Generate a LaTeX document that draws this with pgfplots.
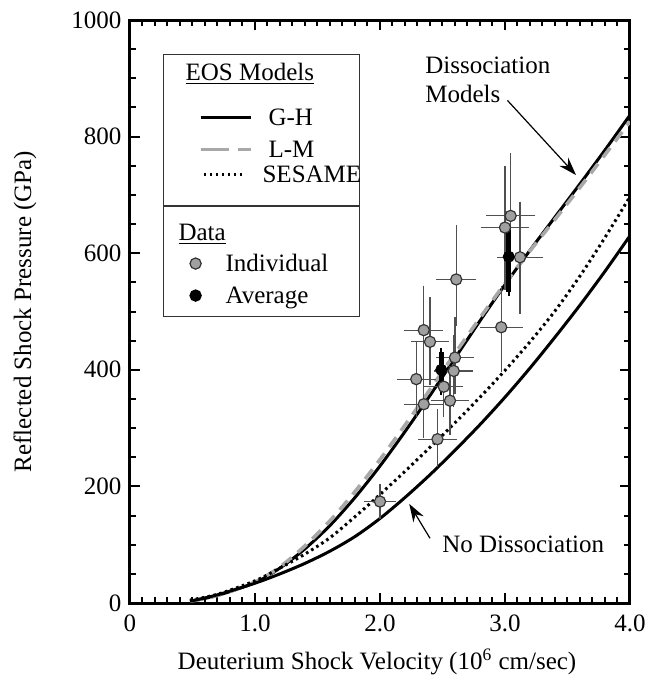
\documentclass[border=0pt]{standalone}
\usepackage{fontspec}
\setmainfont{Liberation Serif}
\usepackage{pgfplots}
\pgfplotsset{compat=1.18}
\usetikzlibrary{arrows.meta}

\definecolor{ptgray}{HTML}{A0A0A0}
\definecolor{lmgray}{HTML}{A8A8A8}
\definecolor{bargray}{HTML}{505050}

\newcommand{\fs}{\fontsize{12.5}{15}\selectfont}
% legend text without height, so that the image boxes set the row spacing
\newcommand{\lt}[2]{\raisebox{-4.8pt}[0pt][0pt]{\makebox[#1][l]{#2}}}

\pgfplotsset{
  headA/.style={legend image code/.code={%
    \path[draw=none,fill=none] (-18.5pt,-11pt) rectangle (32pt,9pt);}},
  ghimg/.style={legend image code/.code={%
    \draw[##1] (0pt,0pt) -- (25pt,0pt);
    \path[draw=none,fill=none] (-18.5pt,-8pt) rectangle (32pt,11.5pt);}},
  lmimg/.style={legend image code/.code={%
    \draw[##1, dash pattern=on 14pt off 4.5pt] (0pt,0pt) -- (25pt,0pt);
    \path[draw=none,fill=none] (-18.5pt,-6.25pt) rectangle (32pt,8pt);}},
  sesimg/.style={legend image code/.code={%
    \draw[##1] (1.5pt,0pt) -- (21.5pt,0pt);
    \path[draw=none,fill=none] (-18.5pt,-15.5pt) rectangle (32pt,6.25pt);}},
  headB/.style={legend image code/.code={%
    \path[draw=none,fill=none] (-16pt,-7.75pt) rectangle (13pt,13pt);}},
  indimg/.style={legend image code/.code={%
    \draw[##1] plot coordinates {(0pt,0pt)};
    \path[draw=none,fill=none] (-16pt,-8pt) rectangle (13pt,7.75pt);}},
  avgimg/.style={legend image code/.code={%
    \draw[##1] plot coordinates {(0pt,0pt)};
    \path[draw=none,fill=none] (-16pt,-10.5pt) rectangle (13pt,8pt);}},
}

% model curves
\pgfplotstableread{
x y
0.48 3
0.70 13
1.00 35
1.20 60
1.40 93
1.60 133
1.80 181
2.00 235
2.20 294
2.40 356
2.60 420
2.80 484
3.00 546
3.20 605
3.40 662
3.60 719
3.80 777
4.00 837
}\gh

\pgfplotstableread{
x y
0.48 3
0.70 13
1.00 36
1.20 62
1.40 98
1.60 141
1.80 191
2.00 246
2.20 305
2.40 366
2.60 428
2.80 489
3.00 548
3.20 604
3.40 658
3.60 713
3.80 769
4.00 826
}\lm

\pgfplotstableread{
x y
0.48 5
0.70 15
1.00 38
1.20 60
1.40 84
1.60 112
1.80 148
2.00 186
2.20 226
2.40 267
2.60 309
2.80 353
3.00 399
3.20 448
3.40 501
3.60 561
3.80 627
4.00 697
}\sesame

\pgfplotstableread{
x y
0.48 3
0.70 14
1.00 34
1.20 50
1.40 68
1.60 89
1.80 114
2.00 145
2.20 181
2.40 220
2.60 262
2.80 306
3.00 353
3.20 403
3.40 456
3.60 511
3.80 569
4.00 630
}\nodiss

% individual shots: x, y, x error, y+ , y-
\pgfplotstableread{
x y ex eyp eym
2.00 174 0.09 23 23
2.35 468 0.12 69 68
2.40 448 0.115 69 66
2.29 384 0.12 58 58
2.35 341 0.12 56 50
2.46 281 0.12 44 41
2.60 421 0.12 62 55
2.59 398 0.12 55 55
2.51 371 0.12 45 45
2.56 347 0.12 52 52
2.61 555 0.125 85 72
2.97 473 0.135 64 70
3.00 644 0.155 98 100
3.045 664 0.16 100 100
3.12 593 0.145 88 89
}\indiv

\pgfplotstableread{
x y eyp eym
2.49 400 30 35
3.03 594 45 60
}\avg

\begin{document}
\fs
\begin{tikzpicture}
\pgfplotsset{
  base/.style={
    scale only axis, width=250pt, height=291.5pt,
    xmin=0, xmax=4, ymin=0, ymax=1000,
  },
  leg/.style={
    legend cell align=left,
    legend style={at={(axis cs:0.264,681)}, anchor=#1,
      draw=black!80, line width=0.6pt, inner xsep=0pt, inner ysep=0pt,
      row sep=0pt, column sep=0pt, font=\fs},
  },
}
\begin{axis}[
  base, leg=south west,
  axis line style={line width=1.5pt},
  tick align=inside, tick pos=both,
  major tick length=5pt, minor tick length=2.8pt,
  every tick/.style={black, line width=1pt},
  tick label style={font=\fs},
  label style={font=\fs},
  xtick={0,1,2,3,4}, xticklabels={0,1.0,2.0,3.0,4.0},
  ytick={0,200,400,600,800,1000}, yticklabels={0,200,400,600,800,1000},
  minor x tick num=9, minor y tick num=3,
  xlabel={Deuterium Shock Velocity (10\textsuperscript{6} cm/sec)},
  ylabel={Reflected Shock Pressure (GPa)},
  xlabel style={at={(axis description cs:0.494,-0.101)}, anchor=center},
  ylabel style={at={(axis description cs:-0.21,0.5)}, anchor=center},
  xticklabel style={yshift=-1.5pt},
]
\addlegendimage{headA}
\addlegendentry{\lt{43.5pt}{\kern-41.5pt\underline{EOS Models}}}
\addplot[black, line width=1.5pt, smooth, ghimg] table[x=x,y=y]{\gh};
\addlegendentry{\lt{43.5pt}{G-H}}
\addplot[lmgray, line width=1.8pt, smooth, dash pattern=on 6pt off 4pt, lmimg]
  table[x=x,y=y]{\lm};
\addlegendentry{\lt{43.5pt}{L-M}}
\addplot[black, line width=1.5pt, smooth, dash pattern=on 1.3pt off 1.7pt, sesimg]
  table[x=x,y=y]{\sesame};
\addlegendentry{\lt{43.5pt}{\kern-3pt SESAME}}
\addplot[black, line width=1.5pt, smooth, forget plot] table[x=x,y=y]{\nodiss};

\node[anchor=base west, inner sep=0pt, font=\fs] at (axis cs:2.36,909) {Dissociation};
\node[anchor=base west, inner sep=0pt, font=\fs] at (axis cs:2.36,858) {Models};
\draw[-{Stealth[length=9pt,width=6pt]}, line width=0.6pt]
  (axis cs:3.02,862) -- (axis cs:3.568,734);
\node[anchor=west, inner sep=0pt, font=\fs] at (axis cs:2.496,100) {No Dissociation};
\draw[-{Stealth[length=9pt,width=6pt]}, line width=0.6pt]
  (axis cs:2.40,111) -- (axis cs:2.234,170);
\end{axis}

\begin{axis}[
  base, hide axis, leg=north west,
]
\addlegendimage{headB}
\addlegendentry{\lt{65pt}{\kern-23.5pt\underline{Data}}}
\addplot[only marks, mark=*, mark size=2.8pt,
  mark options={fill=ptgray, draw=black!80, line width=0.6pt}, indimg,
  error bars/.cd, x dir=both, x explicit, y dir=both, y explicit,
  error bar style={bargray, line width=0.6pt},
  error mark options={bargray, line width=0.6pt, mark size=2.2pt},
  ]
  table[x=x, y=y, x error=ex, y error plus=eyp, y error minus=eym]{\indiv};
\addlegendentry{\lt{65pt}{Individual}}
\addplot[only marks, mark=*, mark size=2.8pt,
  mark options={fill=black, draw=black}, avgimg,
  error bars/.cd, y dir=both, y explicit,
  error bar style={black, line width=2.5pt},
  error mark options={black, line width=0.8pt, mark size=2.2pt},
  ]
  table[x=x, y=y, y error plus=eyp, y error minus=eym]{\avg};
\addlegendentry{\lt{65pt}{Average}}
\end{axis}
% margins of the reference page
\path (current axis.south west) ++(-65pt,-42pt);
\path (current axis.north east) ++(11pt,10pt);
\end{tikzpicture}
\end{document}
